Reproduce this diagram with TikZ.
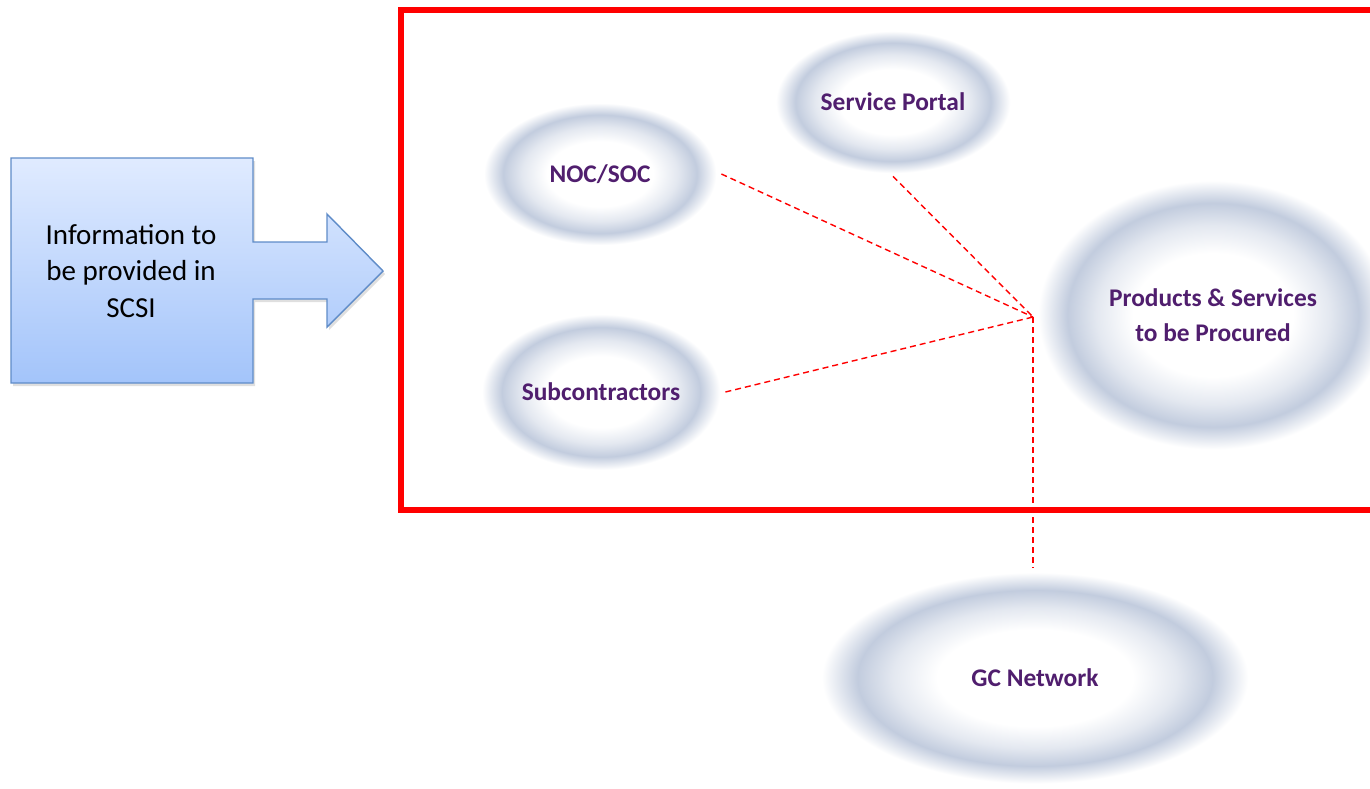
\documentclass[tikz,border=0pt]{standalone}
\usepackage{fontspec}
\setmainfont{Carlito}
\usetikzlibrary{shapes.geometric,shadows}
\definecolor{ringblue}{RGB}{194,204,222}
\definecolor{labelpurple}{RGB}{80,30,110}
\definecolor{calloutline}{RGB}{95,140,200}
\definecolor{callouttop}{RGB}{224,235,255}
\definecolor{calloutbottom}{RGB}{163,196,250}
\pgfdeclareradialshading{softring}{\pgfpointorigin}{color(0bp)=(white); color(11bp)=(white); color(16bp)=(ringblue!45!white); color(20bp)=(ringblue); color(24bp)=(white); color(50bp)=(white)}

\begin{document}
\begin{tikzpicture}[x=0.5pt,y=-0.5pt,
    topic/.style={ellipse,shading=softring,inner sep=0pt,text=labelpurple,align=center,font=\fontsize{12.7}{17.5}\selectfont\bfseries},
    link/.style={red,dash pattern=on 3pt off 2pt,line width=0.7pt}]
    \useasboundingbox (0,0) rectangle (1370,788);

    % callout on the left
    \draw[calloutline,line width=0.7pt,top color=callouttop,bottom color=calloutbottom,
          drop shadow={opacity=0.25,shadow xshift=1pt,shadow yshift=-1.5pt}]
        (11,158) -- (253,158) -- (253,242) -- (327,242) -- (327,214) -- (383,271)
        -- (327,327) -- (327,299) -- (253,299) -- (253,383) -- (11,383) -- cycle;
    \node[align=center,font=\fontsize{14.5}{18.2}\selectfont] (info) at (131,271) {Information to\\be provided in\\SCSI};

    % topics
    \node[topic,minimum width=121pt,minimum height=74pt] (noc) at (600,174) {NOC/SOC};
    \node[topic,minimum width=122pt,minimum height=74pt] (portal) at (893,102) {Service Portal};
    \node[topic,minimum width=124pt,minimum height=81pt] (sub) at (601,392) {Subcontractors};
    \node[topic,minimum width=182pt,minimum height=140pt] (procure) at (1213,315) {Products \& Services\\to be Procured};
    \node[topic,minimum width=222pt,minimum height=110pt] (gcnet) at (1035,678) {GC Network};

    \draw[red,line width=3pt] (401,10) rectangle (1385,510);

    \coordinate (hub) at (1033,317);
    \draw[link] (noc.east) -- (hub);
    \draw[link] (portal.south) -- (hub);
    \draw[link] (sub.east) -- (hub);
    \draw[link] (hub) -- (hub |- gcnet.north);
\end{tikzpicture}
\end{document}
